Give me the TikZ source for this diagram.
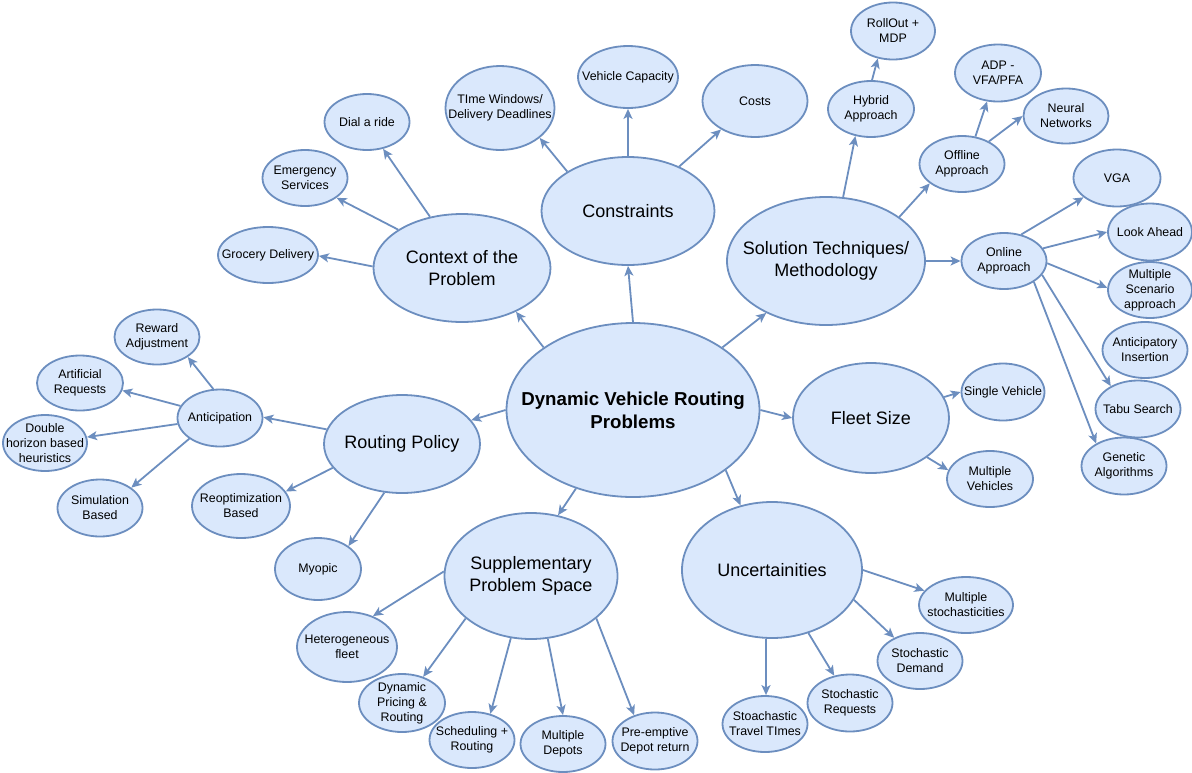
\documentclass[tikz,border=0pt]{standalone}
\usepackage{fontspec}
\setmainfont{Liberation Sans}
\usetikzlibrary{shapes.geometric,arrows.meta}
\definecolor{bubfill}{HTML}{DAE8FC}
\definecolor{bubline}{HTML}{6C8EBF}
\tikzset{
  bub/.style={ellipse, draw=bubline, fill=bubfill, line width=1.8pt, inner sep=0pt},
  small/.style={align=center, text=black, inner sep=0pt, font=\fontsize{12.4}{15}\selectfont},
  big/.style={align=center, text=black, inner sep=0pt, font=\fontsize{18}{21.6}\selectfont},
  hub/.style={align=center, text=black, inner sep=0pt, font=\fontsize{18.7}{23}\selectfont\bfseries},
  arr/.style={draw=bubline, line width=1.8pt, -{Stealth[length=10pt,width=9pt,inset=2.5pt]}},
}
% #1 text style, #2 name, #3 centre, #4 width, #5 height, #6 text
\newcommand{\mkbubble}[6]{%
  \node[bub, minimum width=#4pt, minimum height=#5pt] (#2) at (#3) {};
  \node[#1] (#2-t) at (#2.center) {#6};
}
\begin{document}
\begin{tikzpicture}[x=1pt,y=-1pt]
\useasboundingbox (0,0) rectangle (1192,772);

% centre
\mkbubble{hub}{dvrp}{633,410}{253}{174}{Dynamic Vehicle Routing\\Problems}

% main topics
\mkbubble{big}{ctx}{462,268}{177}{108}{Context of the\\Problem}
\mkbubble{big}{cons}{628,211}{173}{108}{Constraints}
\mkbubble{big}{sol}{826,261}{198}{128}{Solution Techniques/\\Methodology}
\mkbubble{big}{fleet}{871,418}{156}{110}{Fleet Size}
\mkbubble{big}{unc}{772,570}{180}{136}{Uncertainities}
\mkbubble{big}{supp}{531,576}{173}{126}{Supplementary\\Problem Space}
\mkbubble{big}{rp}{402,444}{156}{98}{Routing Policy}

% context
\mkbubble{small}{groc}{268,255}{100}{56}{Grocery Delivery}
\mkbubble{small}{emerg}{305,178}{85}{56}{Emergency\\Services}
\mkbubble{small}{dial}{367,122}{85}{56}{Dial a ride}

% constraints
\mkbubble{small}{tw}{500,108}{109}{84}{TIme Windows/\\Delivery Deadlines}
\mkbubble{small}{vc}{628,77}{100}{62}{Vehicle Capacity}
\mkbubble{small}{costs}{755,101}{105}{72}{Costs}

% solution techniques
\mkbubble{small}{hyb}{871,109}{86}{56}{Hybrid\\Approach}
\mkbubble{small}{roll}{893,31}{84}{57}{RollOut +\\MDP}
\mkbubble{small}{off}{962,164}{85}{56}{Offline\\Approach}
\mkbubble{small}{adp}{998,73}{86}{57}{ADP -\\VFA/PFA}
\mkbubble{small}{nn}{1066,116}{85}{55}{Neural\\Networks}
\mkbubble{small}{onl}{1004,261}{85}{56}{Online\\Approach}
\mkbubble{small}{vga}{1117,178}{87}{57}{VGA}
\mkbubble{small}{la}{1150,232}{84}{57}{Look Ahead}
\mkbubble{small}{msa}{1150,290}{84}{56}{Multiple\\Scenario\\approach}
\mkbubble{small}{ai}{1145,350}{85}{56}{Anticipatory\\Insertion}
\mkbubble{small}{tabu}{1138,409}{85}{57}{Tabu Search}
\mkbubble{small}{ga}{1124,466}{85}{57}{Genetic\\Algorithms}

% fleet size
\mkbubble{small}{sv}{1003,392}{83}{57}{Single Vehicle}
\mkbubble{small}{mv}{990,479}{86}{56}{Multiple\\Vehicles}

% uncertainties
\mkbubble{small}{mst}{966,605}{94}{56}{Multiple\\stochasticities}
\mkbubble{small}{sd}{920,661}{85}{56}{Stochastic\\Demand}
\mkbubble{small}{sr}{850,703}{85}{57}{Stochastic\\Requests}
\mkbubble{small}{tt}{765,724}{85}{56}{Stoachastic\\Travel TImes}

% supplementary problem space
\mkbubble{small}{het}{347,647}{100}{70}{Heterogeneous\\fleet}
\mkbubble{small}{dpr}{402,703}{86}{58}{Dynamic\\Pricing \&\\Routing}
\mkbubble{small}{sch}{472,740}{85}{56}{Scheduling +\\Routing}
\mkbubble{small}{md}{563,744}{85}{56}{Multiple\\Depots}
\mkbubble{small}{pe}{655,741}{85}{57}{Pre-emptive\\Depot return}

% routing policy
\mkbubble{small}{ant}{220,418}{85}{57}{Anticipation}
\mkbubble{small}{reo}{241,506}{98}{64}{Reoptimization\\Based}
\mkbubble{small}{myo}{318,569}{86}{62}{Myopic}
\mkbubble{small}{rew}{157,337}{85}{55}{Reward\\Adjustment}
\mkbubble{small}{art}{80,383}{86}{55}{Artificial\\Requests}
\mkbubble{small}{dh}{45,443}{84}{56}{Double\\horizon based\\heuristics}
\mkbubble{small}{sim}{100,508}{85}{57}{Simulation\\Based}

% connectors from the centre
\draw[arr] (dvrp.145) -- (ctx.-39);
\draw[arr] (dvrp.90)  -- (cons.-90);
\draw[arr] (dvrp.35)  -- (sol.-139);
\draw[arr] (dvrp.0)   -- (fleet.180);
\draw[arr] (dvrp.-33) -- (unc.116);
\draw[arr] (dvrp.-126) -- (supp.66);
\draw[arr] (dvrp.180) -- (rp.19);

% context
\draw[arr] (ctx.179) -- (groc.-1);
\draw[arr] (ctx.149) -- (emerg.-32);
\draw[arr] (ctx.122) -- (dial.-59);

% constraints
\draw[arr] (cons.147) -- (tw.-37);
\draw[arr] (cons.90)  -- (vc.-90);
\draw[arr] (cons.41)  -- (costs.-140);

% solution techniques
\draw[arr] (sol.75)  -- (hyb.-120);
\draw[arr] (hyb.88)  -- (roll.-119);
\draw[arr] (sol.31)  -- (off.-149);
\draw[arr] (off.64)  -- (adp.-111);
\draw[arr] (off.40)  -- (nn.180);
\draw[arr] (sol.0)   -- (onl.180);
\draw[arr] (onl.57)  -- (vga.-150);
\draw[arr] (onl.18)  -- (la.180);
\draw[arr] (onl.-3)  -- (msa.177);
\draw[arr] (onl.-20) -- (tabu.140);
\draw[arr] (onl.-35) -- (ga.141);

% fleet size
\draw[arr] (fleet.16)  -- (sv.180);
\draw[arr] (fleet.-35) -- (mv.168);

% uncertainties
\draw[arr] (unc.0)   -- (mst.161);
\draw[arr] (unc.-20) -- (sd.138);
\draw[arr] (unc.-60) -- (sr.120);
\draw[arr] (unc.-95) -- (tt.88);

% supplementary problem space
\draw[arr] (supp.177)  -- (het.50);
\draw[arr] (supp.-147) -- (dpr.51);
\draw[arr] (supp.-108) -- (sch.55);
\draw[arr] (supp.-75)  -- (md.90);
\draw[arr] (supp.-33)  -- (pe.129);

% routing policy
\draw[arr] (rp.169)  -- (ant.1);
\draw[arr] (rp.-161) -- (reo.18);
\draw[arr] (rp.-110) -- (myo.37);

% anticipation
\draw[arr] (ant.103)  -- (rew.-33);
\draw[arr] (ant.163)  -- (art.-10);
\draw[arr] (ant.-172) -- (dh.8);
\draw[arr] (ant.-146) -- (sim.33);
\end{tikzpicture}
\end{document}
